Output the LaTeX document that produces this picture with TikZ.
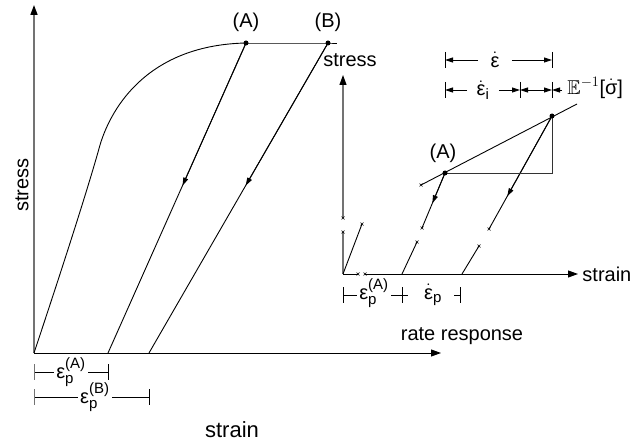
\documentclass[tikz,border=0pt]{standalone}
\usepackage{amsmath,amssymb}
\usepackage{fontspec}
\setmainfont{Liberation Sans}
\DeclareMathSizes{20}{20}{15}{11}
\usetikzlibrary{calc,arrows.meta}

\begin{document}
\begin{tikzpicture}[x=1pt,y=-1pt,>={Triangle[length=8pt,width=5pt]},
  font=\fontsize{20}{22}\selectfont, line width=0.9pt,
  axisg/.style={draw=black!55,line width=1.6pt},
  bigtip/.style={-{Triangle[length=10pt,width=7pt,black]}},
  dimtext/.style={fill=white,inner xsep=2pt,inner ysep=0pt},
  dot/.style={circle,fill,inner sep=0pt,minimum size=5pt},
  brk/.pic={\draw[line width=0.4pt] (-1.5,-1.5) -- (1.5,1.5) (-1.5,1.5) -- (1.5,-1.5);}]
  \useasboundingbox (0,0) rectangle (632,441);
  % main axes
  \coordinate (O) at (34,353);
  \draw[axisg,bigtip] (O) -- (34,5);
  \draw[bigtip] (O) -- (441,353);
  \node[rotate=90] (lstress) at (22,185) {stress};
  \node[font=\fontsize{22}{24}\selectfont] (lstrain) at (232,430) {strain};
  \node (lrate) at (462,336) {rate response};
  % stress-strain curve up to (A) and (B)
  \coordinate (A) at (246,43);
  \coordinate (B) at (328,43);
  \draw (O) .. controls (50,305) and (86,196) .. (100,145)
        .. controls (112,105) and (150,45) .. (A);
  \draw (A) -- (B) -- (337,43);
  % unloading to plastic strains
  \coordinate (Ap) at (108,353);
  \coordinate (Bp) at (149,353);
  \draw (A) -- (Ap);
  \draw[->] (A) -- ($(A)!0.46!(Ap)$);
  \draw (B) -- (Bp);
  \draw[->] (B) -- ($(B)!0.46!(Bp)$);
  \node[dot] (dA) at (A) {};
  \node[dot] (dB) at (B) {};
  \node (lA) at (246,22) {(A)};
  \node (lB) at (328,22) {(B)};
  % plastic strain dimensions
  \coordinate (d1a) at (34,372);
  \coordinate (d1b) at (108,372);
  \coordinate (d2a) at (34,397);
  \coordinate (d2b) at (149,397);
  \draw (d1a) -- (d1b) node[midway,dimtext] (epA) {$\text{ε}_{\text{p}}^{\text{(A)}}$};
  \draw (d2a) -- (d2b) node[pos=0.53,dimtext] (epB) {$\text{ε}_{\text{p}}^{\text{(B)}}$};
  \foreach \t in {d1a,d2a}
    \draw[black!55] ($(\t)+(0,-8)$) -- ($(\t)+(0,8)$);
  \foreach \t in {d1b,d2b}
    \draw ($(\t)+(0,-8)$) -- ($(\t)+(0,8)$);

  % rate response inset
  \coordinate (o) at (343,274);
  \draw[axisg,line width=1.1pt] (o) -- (343,232);
  \draw[axisg,line width=1.1pt,bigtip] (343,218) -- (343,75);
  \path (343,232) pic {brk} (343,218) pic {brk};
  \node (istress) at (350,60) {stress};
  \draw (o) -- (358,274);
  \draw[bigtip] (365,274) -- (578,274) node[right,inner xsep=4pt] (istrain) {strain};
  \path (358,274) pic {brk} (365,274) pic {brk};
  % elastic branch from the origin
  \draw (o) -- (362,224);
  \path (362,224) pic {brk};
  % rate branches
  \coordinate (p1) at (402,274);
  \coordinate (q1) at (422,228);
  \coordinate (Ai) at (445,173);
  \draw (p1) -- (417,242);
  \draw (q1) -- (Ai);
  \draw[->] (Ai) -- ($(Ai)!0.55!(q1)$);
  \path (417,242) pic {brk} (q1) pic {brk};
  \coordinate (p2) at (462,274);
  \coordinate (q2) at (489,229);
  \coordinate (U) at (552,116);
  \draw (p2) -- (479,246);
  \draw (q2) -- (U);
  \draw[->] (U) -- ($(U)!0.71!(q2)$);
  \path (479,246) pic {brk} (q2) pic {brk};
  % tangent line and triangle
  \coordinate (r0) at (421,185);
  \coordinate (r1) at (577,104);
  \coordinate (C) at (552,173);
  \draw (r0) -- (r1);
  \path (r0) pic {brk};
  \draw[black!80] (Ai) -- (C) -- (U);
  \node[dot] (dAi) at (Ai) {};
  \node[dot] (dU) at (U) {};
  \node (iA) at (443,153) {(A)};
  % rate dimensions on top
  \coordinate (e1) at (445,60);
  \coordinate (e2) at (552,60);
  \coordinate (f1) at (445,90);
  \coordinate (f2) at (520,90);
  \coordinate (f3) at (552,90);
  \coordinate (f4) at (562,90);
  \node[inner xsep=12pt] (edot) at (495,60) {$\dot{\text{ε}}$};
  \draw[->] (edot) -- (e1);
  \draw[->] (edot) -- (e2);
  \node[inner xsep=9pt] (eidot) at (483,90) {$\dot{\text{ε}}_{\text{i}}$};
  \draw[->] (eidot) -- (f1);
  \draw[->] (eidot) -- (f2);
  \draw[<->] (f2) -- (f3);
  \draw[->] (f4) -- (f3);
  \node[right,inner xsep=2pt] (Einv) at (565,88)
    {$\mathbb{E}^{-1}\text{[}\dot{\text{σ}}\text{]}$};
  \foreach \t in {e1,e2,f1,f2,f3}
    \draw ($(\t)+(0,-8)$) -- ($(\t)+(0,8)$);
  % plastic dimensions below the inset
  \coordinate (g1) at (343,295);
  \coordinate (g2) at (402,295);
  \coordinate (g3) at (460,295);
  \draw (g1) -- ($(g2)+(6,0)$);
  \node[dimtext] (ipA) at (374,293) {$\text{ε}_{\text{p}}^{\text{(A)}}$};
  \draw ($(g3)+(-6,0)$) -- (g3);
  \node (ipdot) at (433,295) {$\dot{\text{ε}}_{\text{p}}$};
  \foreach \t in {g1,g2,g3}
    \draw ($(\t)+(0,-8)$) -- ($(\t)+(0,8)$);
\end{tikzpicture}
\end{document}
